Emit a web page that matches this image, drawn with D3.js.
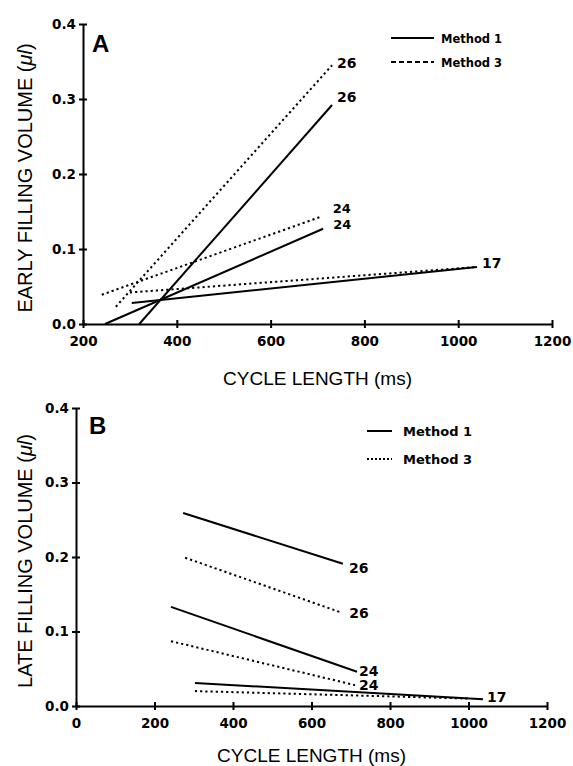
<!DOCTYPE html>
<html>
<head>
<meta charset="utf-8">
<script src="https://cdn.jsdelivr.net/npm/d3@7"></script>
<style>
  body { margin: 0; background: #fff; }
</style>
</head>
<body>
<div id="chart"></div>
<script>
// each line: [[cycle length start, volume start], [cycle length end, volume end]]
const seriesLabels = ["26", "24", "17"];
const earlyMethod1 = [[[320, 0.000], [731, 0.292]], [[247, 0.000], [712, 0.127]], [[304, 0.028], [1040, 0.076]]];
const earlyMethod3 = [[[270, 0.023], [731, 0.345]], [[240, 0.039], [707, 0.143]], [[300, 0.042], [1040, 0.076]]];
const lateMethod1 = [[[273, 0.259], [680, 0.191]], [[242, 0.133], [716, 0.046]], [[303, 0.031], [1037, 0.009]]];
const lateMethod3 = [[[278, 0.199], [673, 0.126]], [[242, 0.087], [711, 0.028]], [[303, 0.020], [1000, 0.010]]];
const yTicks = [0, 0.1, 0.2, 0.3, 0.4];
const xTicksA = [200, 400, 600, 800, 1000, 1200];
const xTicksB = [0, 200, 400, 600, 800, 1000, 1200];
const methodNames = ["Method 1", "Method 3"];

const width = 573, height = 766;
const tickFont = "'DejaVu Sans', sans-serif";
const titleFont = "'Liberation Sans', Arial, sans-serif";

let svg = d3.select("#chart")
    .append("svg")
    .attr("width", width)
    .attr("height", height);

function drawPanel(p) {
    let x = d3.scaleLinear().domain(p.xDomain).range([p.left, p.right]);
    let y = d3.scaleLinear().domain([0, 0.4]).range([p.bottom, p.top]);
    let g = svg.append("g");

    // axes, ticks cross the axis line
    let yAxis = g.append("g")
        .attr("transform", "translate(" + p.left + ",0)")
        .call(d3.axisLeft(y).tickValues(yTicks).tickFormat(d3.format(".1f"))
            .tickSize(4).tickSizeOuter(0).tickPadding(3));
    yAxis.selectAll(".tick line").attr("x1", 4);
    let xAxis = g.append("g")
        .attr("transform", "translate(0," + p.bottom + ")")
        .call(d3.axisBottom(x).tickValues(p.xTicks).tickFormat(d3.format("d"))
            .tickSize(4).tickSizeOuter(0).tickPadding(8));
    xAxis.selectAll(".tick line").attr("y1", -4);
    g.selectAll(".domain, .tick line").attr("stroke", "#000").attr("stroke-width", 2);
    g.selectAll(".tick text")
        .attr("fill", "#000")
        .style("font-family", tickFont)
        .style("font-weight", "bold")
        .style("font-size", "13.5px");

    // lines
    let line = d3.line().x(d => x(d[0])).y(d => y(d[1]));
    p.series.forEach(function (s, m) {
        g.append("g")
            .selectAll("path")
            .data(s)
            .enter()
            .append("path")
            .attr("d", line)
            .attr("fill", "none")
            .attr("stroke", "#000")
            .attr("stroke-width", 2)
            .attr("stroke-dasharray", m === 1 ? "2.2,3" : null);
    });

    // end labels (nudged where they would collide)
    p.labels.forEach(function (l) {
        let end = p.series[l.m][l.i][1];
        g.append("text")
            .attr("x", x(end[0]) + l.dx)
            .attr("y", y(end[1]) + l.dy)
            .style("font-family", tickFont)
            .style("font-weight", "bold")
            .style("font-size", (l.fs || 14) + "px")
            .text(seriesLabels[l.i]);
    });

    // panel letter
    g.append("text")
        .attr("x", p.letterX)
        .attr("y", p.top + p.letterDy)
        .style("font-family", titleFont)
        .style("font-weight", "bold")
        .style("font-size", "24px")
        .text(p.letter);

    // legend
    methodNames.forEach(function (name, m) {
        let ly = p.legY + m * p.legGap;
        g.append("line")
            .attr("x1", p.legX).attr("x2", p.legX + p.legLen)
            .attr("y1", ly).attr("y2", ly)
            .attr("stroke", "#000")
            .attr("stroke-width", 2)
            .attr("stroke-dasharray", m === 1 ? p.legDash : null);
        g.append("text")
            .attr("x", p.legX + p.legLen + p.legPad)
            .attr("y", ly + p.legFont * 0.4)
            .style("font-family", tickFont)
            .style("font-weight", "bold")
            .style("font-size", p.legFont + "px")
            .text(name);
    });

    // axis titles
    g.append("text")
        .attr("x", (p.left + p.right) / 2 + p.xTitleShift)
        .attr("y", p.bottom + p.xTitleDy)
        .attr("text-anchor", "middle")
        .style("font-family", titleFont)
        .style("font-size", "19px")
        .text("CYCLE LENGTH (ms)");
    let yt = g.append("text")
        .attr("transform", "translate(32," + p.yTitleY + ") rotate(-90)")
        .attr("text-anchor", "middle")
        .style("font-family", titleFont)
        .style("font-size", "20px");
    yt.append("tspan").text(p.yTitle + " (");
    yt.append("tspan").style("font-style", "italic").text("\u03bcl");
    yt.append("tspan").text(")");
}

drawPanel({
    left: 83, right: 552, top: 24, bottom: 324,
    xDomain: [200, 1200], xTicks: xTicksA,
    series: [earlyMethod1, earlyMethod3],
    labels: [
        { m: 1, i: 0, dx: 5, dy: 3 },
        { m: 0, i: 0, dx: 5, dy: -3 },
        { m: 1, i: 1, dx: 12, dy: -4, fs: 13 },
        { m: 0, i: 1, dx: 10, dy: 0, fs: 13 },
        { m: 0, i: 2, dx: 5, dy: 1 }
    ],
    letter: "A", letterX: 92, letterDy: 28,
    legX: 391, legY: 38, legGap: 24, legLen: 43, legPad: 7, legFont: 11.5, legDash: "5,3",
    xTitleShift: 0, xTitleDy: 61,
    yTitle: "EARLY FILLING VOLUME", yTitleY: 178
});

drawPanel({
    left: 76, right: 547, top: 408, bottom: 706,
    xDomain: [0, 1200], xTicks: xTicksB,
    series: [lateMethod1, lateMethod3],
    labels: [
        { m: 0, i: 0, dx: 6, dy: 9 },
        { m: 1, i: 0, dx: 9, dy: 6 },
        { m: 0, i: 1, dx: 2, dy: 4 },
        { m: 1, i: 1, dx: 4, dy: 5 },
        { m: 0, i: 2, dx: 4, dy: 3 }
    ],
    letter: "B", letterX: 89, letterDy: 26,
    legX: 367, legY: 431, legGap: 28, legLen: 25, legPad: 11, legFont: 13, legDash: "2,2",
    xTitleShift: 0, xTitleDy: 56,
    yTitle: "LATE FILLING VOLUME", yTitleY: 561
});
</script>
</body>
</html>
